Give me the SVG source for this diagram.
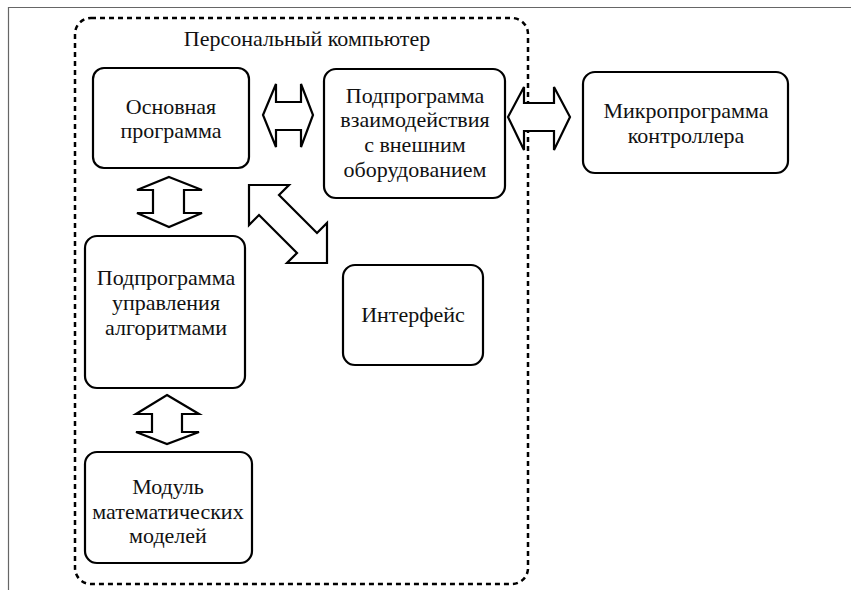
<svg xmlns="http://www.w3.org/2000/svg" width="851" height="590" viewBox="0 0 851 590">
<style>
.box{fill:#fff;stroke:#000;stroke-width:2.2}
.t{font-family:'Liberation Serif','Times New Roman',serif;font-size:22px;fill:#111;text-anchor:middle}
.frame{fill:none;stroke:#000;stroke-width:2.5;stroke-dasharray:5 4}
#connectors polygon{fill:#fff;stroke:#000;stroke-width:2.2}
</style>
<rect width="851" height="590" fill="#fff"/>
<path d="M8.5 590 V7.5 H851" fill="none" stroke="#666" stroke-width="1.2"/>
<g id="pc">
<rect class="frame" x="75" y="18" width="453" height="566" rx="16"/>
<text class="t" x="307" y="46">Персональный компьютер</text>
</g>
<g id="main">
<rect class="box" x="93" y="68" width="156" height="100" rx="11"/>
<text class="t" x="171" y="114">Основная</text>
<text class="t" x="171" y="138">программа</text>
</g>
<g id="io">
<rect class="box" x="324" y="69" width="181" height="129" rx="12"/>
<text class="t" x="415" y="103">Подпрограмма</text>
<text class="t" x="415" y="127">взаимодействия</text>
<text class="t" x="415" y="152">с внешним</text>
<text class="t" x="415" y="177">оборудованием</text>
</g>
<g id="fw">
<rect class="box" x="583" y="72" width="205" height="101" rx="12"/>
<text class="t" x="686" y="118">Микропрограмма</text>
<text class="t" x="686" y="143">контроллера</text>
</g>
<g id="algo">
<rect class="box" x="85" y="236" width="160" height="152" rx="12"/>
<text class="t" x="166" y="285">Подпрограмма</text>
<text class="t" x="166" y="310">управления</text>
<text class="t" x="166" y="335">алгоритмами</text>
</g>
<g id="ui">
<rect class="box" x="343" y="265" width="140" height="100" rx="12"/>
<text class="t" x="413" y="322">Интерфейс</text>
</g>
<g id="math">
<rect class="box" x="85" y="452" width="167" height="111" rx="12"/>
<text class="t" x="168" y="494">Модуль</text>
<text class="t" x="168" y="519">математических</text>
<text class="t" x="168" y="543">моделей</text>
</g>
<g id="connectors">
<polygon points="263,115 276,84 276,102 301,102 301,84 313,115 301,147 301,130 276,130 276,147"/>
<polygon points="508,117 524,87 524,103 554,103 554,87 570,117 554,150 554,131 524,131 524,150"/>
<polygon points="169,177 202,190 184,190 184,213 202,213 169,227 137,213 153,213 153,190 137,190"/>
<polygon points="167,395 199,414 182,414 182,432 199,432 167,444 136,432 152,432 152,414 136,414"/>
<polygon points="249,185 289,185 279,195 317,233 327,223 327,263 287,263 297,253 259,215 249,225"/>
</g>
</svg>
